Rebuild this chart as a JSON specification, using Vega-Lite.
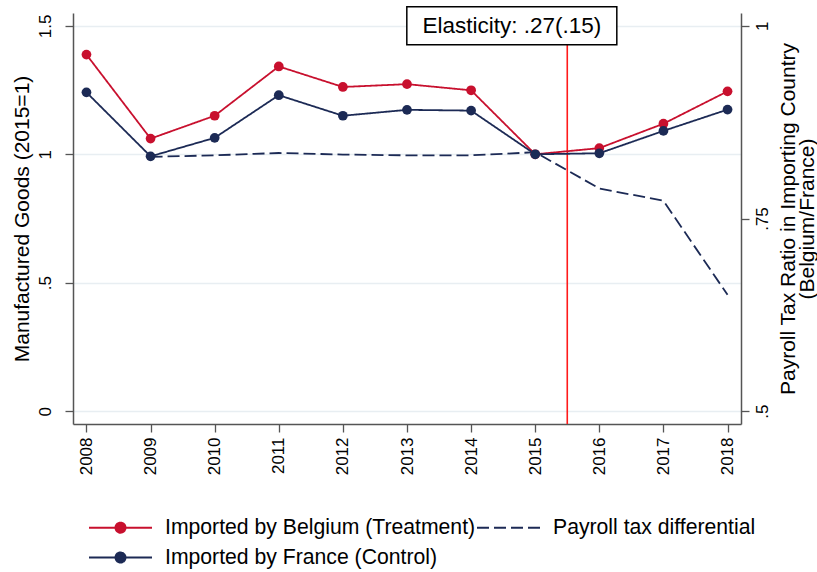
{
  "$schema": "https://vega.github.io/schema/vega-lite/v6.json",
  "width": 668,
  "height": 411,
  "autosize": {"type": "none"},
  "padding": {"left": 73, "top": 13, "right": 76, "bottom": 148},
  "background": "white",
  "data": {
    "values": [
      {"kind": "trade", "series": "Imported by Belgium (Treatment)", "year": 2008, "value": 1.388},
      {"kind": "trade", "series": "Imported by Belgium (Treatment)", "year": 2009, "value": 1.061},
      {"kind": "trade", "series": "Imported by Belgium (Treatment)", "year": 2010, "value": 1.150},
      {"kind": "trade", "series": "Imported by Belgium (Treatment)", "year": 2011, "value": 1.342},
      {"kind": "trade", "series": "Imported by Belgium (Treatment)", "year": 2012, "value": 1.262},
      {"kind": "trade", "series": "Imported by Belgium (Treatment)", "year": 2013, "value": 1.273},
      {"kind": "trade", "series": "Imported by Belgium (Treatment)", "year": 2014, "value": 1.249},
      {"kind": "trade", "series": "Imported by Belgium (Treatment)", "year": 2015, "value": 1.000},
      {"kind": "trade", "series": "Imported by Belgium (Treatment)", "year": 2016, "value": 1.024},
      {"kind": "trade", "series": "Imported by Belgium (Treatment)", "year": 2017, "value": 1.119},
      {"kind": "trade", "series": "Imported by Belgium (Treatment)", "year": 2018, "value": 1.245},
      {"kind": "trade", "series": "Imported by France (Control)", "year": 2008, "value": 1.241},
      {"kind": "trade", "series": "Imported by France (Control)", "year": 2009, "value": 0.992},
      {"kind": "trade", "series": "Imported by France (Control)", "year": 2010, "value": 1.064},
      {"kind": "trade", "series": "Imported by France (Control)", "year": 2011, "value": 1.230},
      {"kind": "trade", "series": "Imported by France (Control)", "year": 2012, "value": 1.150},
      {"kind": "trade", "series": "Imported by France (Control)", "year": 2013, "value": 1.173},
      {"kind": "trade", "series": "Imported by France (Control)", "year": 2014, "value": 1.170},
      {"kind": "trade", "series": "Imported by France (Control)", "year": 2015, "value": 1.000},
      {"kind": "trade", "series": "Imported by France (Control)", "year": 2016, "value": 1.004},
      {"kind": "trade", "series": "Imported by France (Control)", "year": 2017, "value": 1.091},
      {"kind": "trade", "series": "Imported by France (Control)", "year": 2018, "value": 1.174},
      {"kind": "tax", "series": "Payroll tax differential", "year": 2009, "value": 0.830},
      {"kind": "tax", "series": "Payroll tax differential", "year": 2010, "value": 0.832},
      {"kind": "tax", "series": "Payroll tax differential", "year": 2011, "value": 0.835},
      {"kind": "tax", "series": "Payroll tax differential", "year": 2012, "value": 0.833},
      {"kind": "tax", "series": "Payroll tax differential", "year": 2013, "value": 0.832},
      {"kind": "tax", "series": "Payroll tax differential", "year": 2014, "value": 0.832},
      {"kind": "tax", "series": "Payroll tax differential", "year": 2015, "value": 0.836},
      {"kind": "tax", "series": "Payroll tax differential", "year": 2016, "value": 0.789},
      {"kind": "tax", "series": "Payroll tax differential", "year": 2017, "value": 0.773},
      {"kind": "tax", "series": "Payroll tax differential", "year": 2018, "value": 0.651},
      {"kind": "event", "year": 2015.5},
      {"kind": "note", "year": 2014.635, "value": 1.5, "label": "Elasticity: .27(.15)"}
    ]
  },
  "config": {
    "font": "Liberation Sans",
    "view": {"stroke": null},
    "axis": {
      "labelFont": "Liberation Sans",
      "titleFont": "Liberation Sans",
      "labelFontSize": 17,
      "titleFontSize": 21,
      "titleFontWeight": "normal",
      "labelColor": "#000000",
      "titleColor": "#000000",
      "tickColor": "#555555",
      "domainColor": "#555555",
      "tickSize": 8,
      "tickWidth": 1.3,
      "domainWidth": 1.5,
      "grid": false
    },
    "legend": {
      "labelFont": "Liberation Sans",
      "labelFontSize": 21.2,
      "labelColor": "#000000",
      "labelLimit": 500
    }
  },
  "encoding": {
    "x": {
      "field": "year",
      "type": "quantitative",
      "scale": {"domain": [2007.79, 2018.21], "nice": false, "zero": false},
      "axis": {
        "title": null,
        "values": [2008, 2009, 2010, 2011, 2012, 2013, 2014, 2015, 2016, 2017, 2018],
        "format": "d",
        "labelAngle": 270,
        "labelAlign": "right",
        "labelBaseline": "middle",
        "labelPadding": 5
      }
    }
  },
  "layer": [
    {
      "layer": [
        {
          "transform": [{"filter": "datum.kind == 'tax'"}],
          "mark": {"type": "line", "strokeWidth": 1.8},
          "encoding": {
            "y": {
              "field": "value",
              "type": "quantitative",
              "scale": {"domain": [0.483333, 1.016667], "nice": false, "zero": false},
              "axis": {
                "orient": "right",
                "values": [0.5, 0.75, 1],
                "labelExpr": "replace(format(datum.value, ''), '0.', '.')",
                "labelAngle": 270,
                "labelAlign": "center",
                "labelBaseline": "top",
                "labelPadding": 5,
                "title": ["Payroll Tax Ratio in Importing Country", "(Belgium/France)"],
                "titleAngle": 270,
                "titleBaseline": "top",
                "titleAlign": "center",
                "titleX": 36,
                "titleY": 205.5,
                "titleLineHeight": 19,
                "grid": false
              }
            },
            "color": {
              "field": "series",
              "type": "nominal",
              "scale": {
                "domain": ["Imported by Belgium (Treatment)", "Payroll tax differential", "Imported by France (Control)"],
                "range": ["#c8102e", "#1c2a55", "#1c2a55"]
              },
              "legend": {"title": null, "orient": "none", "legendX": 36, "legendY": 503, "columns": 2, "direction": "horizontal", "symbolSize": 441, "symbolStrokeWidth": 2, "labelOffset": 33, "columnPadding": -3, "rowPadding": 8}
            },
            "strokeDash": {
              "field": "series",
              "type": "nominal",
              "scale": {
                "domain": ["Imported by Belgium (Treatment)", "Payroll tax differential", "Imported by France (Control)"],
                "range": [[1, 0], [12, 5], [1, 0]]
              },
              "legend": {"title": null, "orient": "none", "legendX": 36, "legendY": 503, "columns": 2, "direction": "horizontal", "symbolSize": 441, "symbolStrokeWidth": 2, "labelOffset": 33, "columnPadding": -3, "rowPadding": 8}
            }
          }
        }
      ]
    },
    {
      "encoding": {
        "y": {
          "field": "value",
          "type": "quantitative",
          "scale": {"domain": [-0.05, 1.55], "nice": false, "zero": false},
          "axis": {
            "orient": "left",
            "values": [0, 0.5, 1, 1.5],
            "labelExpr": "replace(format(datum.value, ''), '0.', '.')",
            "labelAngle": 270,
            "labelAlign": "center",
            "labelBaseline": "alphabetic",
            "labelPadding": 15,
            "title": "Manufactured Goods (2015=1)",
            "titleAngle": 270,
            "titleBaseline": "bottom",
            "titlePadding": 4,
            "grid": true,
            "gridColor": "#e8eef2",
            "gridWidth": 1.5
          }
        }
      },
      "layer": [
        {
          "transform": [{"filter": "datum.kind == 'event'"}],
          "mark": {"type": "rule", "color": "#ff1a1a", "strokeWidth": 1.6},
          "encoding": {"y": null}
        },
        {
          "transform": [{"filter": "datum.kind == 'trade'"}],
          "mark": {"type": "line", "strokeWidth": 1.8},
          "encoding": {
            "color": {
              "field": "series",
              "type": "nominal",
              "scale": {
                "domain": ["Imported by Belgium (Treatment)", "Payroll tax differential", "Imported by France (Control)"],
                "range": ["#c8102e", "#1c2a55", "#1c2a55"]
              },
              "legend": {"title": null, "orient": "none", "legendX": 36, "legendY": 503, "columns": 2, "direction": "horizontal", "symbolSize": 441, "symbolStrokeWidth": 2, "labelOffset": 33, "columnPadding": -3, "rowPadding": 8}
            },
            "strokeDash": {
              "field": "series",
              "type": "nominal",
              "scale": {
                "domain": ["Imported by Belgium (Treatment)", "Payroll tax differential", "Imported by France (Control)"],
                "range": [[1, 0], [12, 5], [1, 0]]
              },
              "legend": {"title": null, "orient": "none", "legendX": 36, "legendY": 503, "columns": 2, "direction": "horizontal", "symbolSize": 441, "symbolStrokeWidth": 2, "labelOffset": 33, "columnPadding": -3, "rowPadding": 8}
            }
          }
        },
        {
          "transform": [{"filter": "datum.kind == 'trade'"}],
          "mark": {"type": "point", "filled": true, "size": 95, "opacity": 1},
          "encoding": {
            "color": {
              "field": "series",
              "type": "nominal",
              "scale": {
                "domain": ["Imported by Belgium (Treatment)", "Payroll tax differential", "Imported by France (Control)"],
                "range": ["#c8102e", "#1c2a55", "#1c2a55"]
              },
              "legend": {"title": null, "orient": "none", "legendX": 36, "legendY": 503, "columns": 2, "direction": "horizontal", "symbolSize": 441, "symbolStrokeWidth": 2, "labelOffset": 33, "columnPadding": -3, "rowPadding": 8}
            }
          }
        },
        {
          "transform": [{"filter": "datum.kind == 'legendonly'"}],
          "mark": {"type": "point", "filled": true, "opacity": 1},
          "encoding": {
            "color": {
              "field": "series",
              "type": "nominal",
              "scale": {
                "domain": ["Imported by Belgium (Treatment)", "Payroll tax differential", "Imported by France (Control)"],
                "range": ["#c8102e", "#1c2a55", "#1c2a55"]
              },
              "legend": {"title": null, "orient": "none", "legendX": 36, "legendY": 503, "columns": 2, "direction": "horizontal", "symbolSize": 441, "symbolStrokeWidth": 2, "labelOffset": 33, "columnPadding": -3, "rowPadding": 8}
            },
            "shape": {
              "field": "series",
              "type": "nominal",
              "scale": {
                "domain": ["Imported by Belgium (Treatment)", "Payroll tax differential", "Imported by France (Control)"],
                "range": [
                  "M-3,0L3,0M0.476,0A0.476,0.476,0,1,1,-0.476,0A0.476,0.476,0,1,1,0.476,0Z",
                  "M-3,0L3,0",
                  "M-3,0L3,0M0.476,0A0.476,0.476,0,1,1,-0.476,0A0.476,0.476,0,1,1,0.476,0Z"
                ]
              },
              "legend": {"title": null, "orient": "none", "legendX": 36, "legendY": 503, "columns": 2, "direction": "horizontal", "symbolSize": 441, "symbolStrokeWidth": 2, "labelOffset": 33, "columnPadding": -3, "rowPadding": 8}
            }
          }
        },
        {
          "transform": [{"filter": "datum.kind == 'note'"}],
          "mark": {"type": "rect", "width": 210, "height": 38, "fill": "white", "stroke": "#000000", "strokeWidth": 1.5}
        },
        {
          "transform": [{"filter": "datum.kind == 'note'"}],
          "mark": {"type": "text", "fontSize": 22.5, "font": "Liberation Sans", "color": "#000000", "align": "center", "baseline": "middle"},
          "encoding": {"text": {"field": "label"}}
        }
      ]
    }
  ],
  "resolve": {"scale": {"y": "independent"}, "axis": {"y": "independent"}}
}
